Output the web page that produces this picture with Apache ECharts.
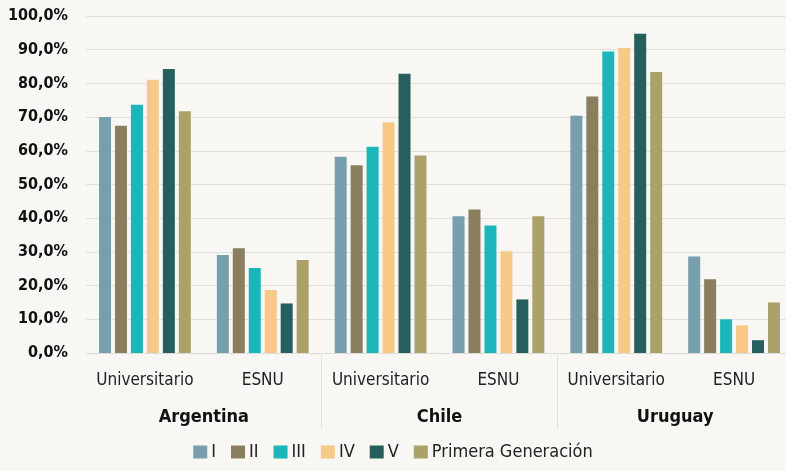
<!DOCTYPE html>
<html>
<head>
<meta charset="utf-8">
<script src="https://cdn.jsdelivr.net/npm/echarts@6/dist/echarts.min.js"></script>
<style>
  html, body { margin: 0; padding: 0; background: #f8f7f4; }
  #chart { width: 786px; height: 471px; }
</style>
</head>
<body>
<div id="chart"></div>
<script>
// categorías del eje
var tipos = ['Universitario', 'ESNU', 'Universitario', 'ESNU', 'Universitario', 'ESNU'];
var paises = ['Argentina', 'Chile', 'Uruguay'];
var yTicks = [0, 10, 20, 30, 40, 50, 60, 70, 80, 90, 100];

// series: Arg Univ, Arg ESNU, Chi Univ, Chi ESNU, Uru Univ, Uru ESNU
var serieI   = [70.0, 29.1, 58.2, 40.6, 70.4, 28.6];
var serieII  = [67.4, 31.1, 55.7, 42.6, 76.1, 21.9];
var serieIII = [73.7, 25.2, 61.2, 37.8, 89.5, 10.0];
var serieIV  = [81.1, 18.7, 68.5, 30.2, 90.5, 8.2];
var serieV   = [84.3, 14.7, 82.9, 15.9, 94.7, 3.8];
var seriePG  = [71.7, 27.6, 58.6, 40.6, 83.4, 15.0];

var nombres = ['I', 'II', 'III', 'IV', 'V', 'Primera Generación'];
var colores = ['#789fae', '#8a7e5f', '#1bb6b9', '#f6c988', '#265f5e', '#aba26a'];
var datos = [serieI, serieII, serieIII, serieIV, serieV, seriePG];

var fuente = '"DejaVu Sans Condensed", "Liberation Sans Narrow", sans-serif';

var series = [];
for (var i = 0; i < datos.length; i++) {
  series.push({
    name: nombres[i],
    type: 'bar',
    xAxisIndex: 0,
    data: datos[i],
    barWidth: 12,
    barGap: '33%',
    itemStyle: { color: colores[i] }
  });
}

var myChart = echarts.init(document.getElementById('chart'));
var option = {
  backgroundColor: '#f8f7f4',
  animation: false,
  textStyle: { fontFamily: fuente },
  grid: { left: 86, right: -7, top: 16, bottom: 118, containLabel: false, outerBoundsMode: 'none' },
  legend: {
    bottom: 5,
    left: 'center',
    icon: 'rect',
    itemWidth: 14,
    itemHeight: 13,
    itemGap: 15,
    data: nombres,
    textStyle: { color: '#222', fontSize: 18, fontFamily: fuente, padding: [0, 0, 0, -1] }
  },
  xAxis: [
    {
      type: 'category',
      data: tipos,
      position: 'bottom',
      axisLine: { show: true, lineStyle: { color: '#dedcd8', width: 1 } },
      axisTick: { show: false },
      axisLabel: { color: '#222', fontSize: 17, margin: 19, interval: 0, fontFamily: fuente }
    },
    {
      type: 'category',
      data: paises,
      position: 'bottom',
      boundaryGap: true,
      axisLine: { show: false },
      axisTick: {
        show: true,
        length: 76,
        interval: function (idx) { return idx > 0; },
        lineStyle: { color: '#e4e2de', width: 1 }
      },
      axisLabel: { color: '#111', fontSize: 18, fontWeight: 'bold', margin: 55, fontFamily: fuente }
    }
  ],
  yAxis: {
    type: 'value',
    min: yTicks[0],
    max: yTicks[yTicks.length - 1],
    interval: 10,
    axisLine: { show: false },
    axisTick: { show: false },
    splitLine: { lineStyle: { color: '#e2e0dc', width: 1 } },
    axisLabel: {
      color: '#111',
      fontSize: 16,
      fontWeight: 'bold',
      margin: 18,
      fontFamily: fuente,
      formatter: function (v) { return v.toFixed(1).replace('.', ',') + '%'; }
    }
  },
  series: series
};
myChart.setOption(option);
</script>
</body>
</html>
